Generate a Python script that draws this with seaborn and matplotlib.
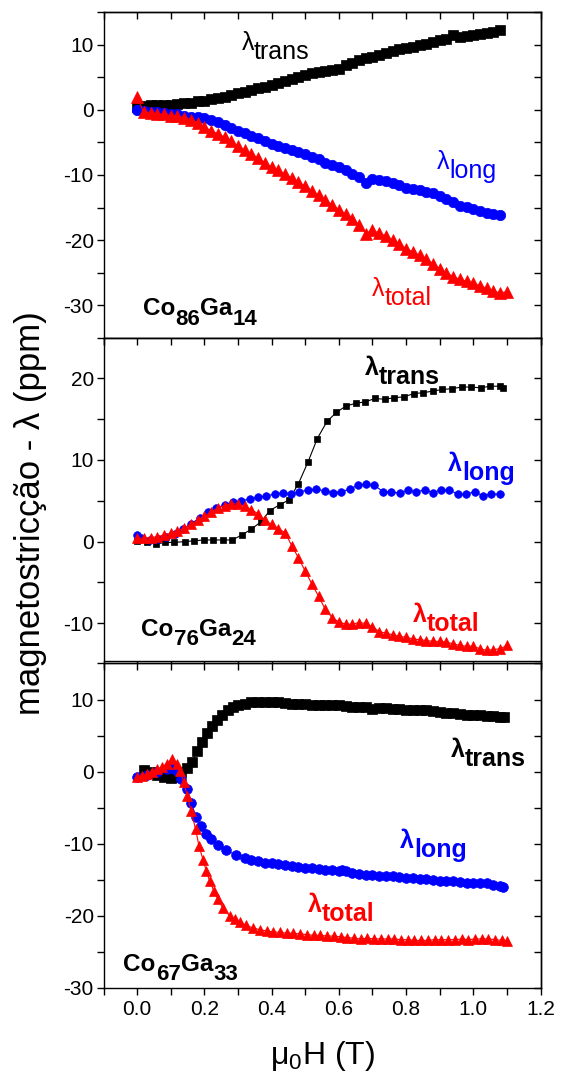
import matplotlib
matplotlib.use('Agg')
import numpy as np
import matplotlib.pyplot as plt
from matplotlib.ticker import MultipleLocator
import seaborn as sns

# ---- Co86Ga14 (top panel) ----
x_p1 = np.round(np.arange(0, 1.081, 0.02), 3)
trans_p1 = [0.4, 0.6, 0.7, 0.7, 0.8, 0.8, 0.9, 1.0, 1.1, 1.3, 1.4, 1.6, 1.8, 2.0, 2.3,
            2.6, 2.8, 3.0, 3.3, 3.5, 3.8, 4.1, 4.4, 4.7, 5.1, 5.4, 5.6, 5.8, 6.0, 6.1,
            6.3, 6.8, 7.2, 7.6, 7.9, 8.1, 8.4, 8.7, 9.0, 9.3, 9.5, 9.7, 9.9, 10.1, 10.4,
            10.7, 10.9, 11.4, 11.2, 11.3, 11.4, 11.6, 11.8, 12.0, 12.2]
long_p1 = [-0.1, -0.2, -0.3, -0.4, -0.5, -0.6, -0.7, -0.9, -1.1, -1.1, -1.2, -1.5, -1.9,
           -2.3, -2.8, -3.2, -3.6, -4.0, -4.4, -4.8, -5.2, -5.5, -5.8, -6.1, -6.4, -6.8,
           -7.2, -7.6, -8.1, -8.5, -8.8, -9.3, -9.8, -10.3, -11.2, -10.6, -10.8, -10.9,
           -11.2, -11.6, -12.0, -12.1, -12.3, -12.6, -12.8, -13.3, -13.7, -14.2, -14.7,
           -14.9, -15.2, -15.5, -15.8, -16.0, -16.1]
xt_p1 = np.round(np.arange(0, 1.101, 0.02), 3)
total_p1 = [1.9, -0.4, -0.5, -0.6, -0.7, -0.9, -1.0, -1.2, -1.5, -2.0, -2.7, -3.2, -3.7,
            -4.2, -4.8, -5.6, -6.2, -6.8, -7.4, -8.1, -8.8, -9.3, -9.9, -10.5, -11.1,
            -11.7, -12.4, -13.1, -13.9, -14.6, -15.3, -16.0, -16.7, -17.6, -19.0, -18.5,
            -18.9, -19.4, -20.0, -20.6, -21.3, -21.8, -22.3, -22.9, -23.6, -24.4, -25.0,
            -25.6, -26.0, -26.3, -26.6, -27.0, -27.4, -27.8, -28.1, -27.9]

# ---- Co76Ga24 (middle panel) ----
xtr_p2 = [0.0, 0.03, 0.057, 0.082, 0.111, 0.141, 0.169, 0.198, 0.226, 0.254, 0.283, 0.311,
          0.339, 0.368, 0.395, 0.424, 0.452, 0.480, 0.508, 0.536, 0.565, 0.593, 0.622,
          0.650, 0.679, 0.708, 0.737, 0.765, 0.794, 0.823, 0.850, 0.879, 0.908, 0.937,
          0.965, 0.994, 1.022, 1.050, 1.079, 1.087]
trans_p2 = [0.1, 0.0, -0.3, -0.1, -0.1, 0.0, 0.1, 0.2, 0.2, 0.2, 0.2, 0.8, 1.5, 2.4, 3.8,
            4.5, 5.1, 7.1, 9.7, 12.6, 14.7, 15.8, 16.6, 16.9, 17.1, 17.5, 17.4, 17.6, 17.7,
            18.1, 18.2, 18.4, 18.6, 18.7, 18.9, 18.9, 18.8, 19.0, 19.0, 18.8]
xlo_p2 = [0.0, 0.012, 0.037, 0.062, 0.087, 0.112, 0.136, 0.161, 0.186, 0.211, 0.236, 0.260,
          0.285, 0.310, 0.335, 0.359, 0.384, 0.409, 0.434, 0.459, 0.483, 0.508, 0.533,
          0.558, 0.582, 0.607, 0.632, 0.657, 0.682, 0.706, 0.731, 0.756, 0.781, 0.806,
          0.830, 0.855, 0.880, 0.905, 0.929, 0.954, 0.979, 1.004, 1.028, 1.053, 1.078]
long_p2 = [0.8, 0.4, 0.2, 0.3, 0.6, 0.9, 1.5, 2.2, 2.9, 3.6, 4.1, 4.5, 4.8, 5.0, 5.2, 5.4,
           5.6, 5.8, 6.0, 5.8, 6.1, 6.3, 6.4, 6.2, 6.0, 6.1, 6.4, 6.9, 7.0, 6.9, 6.1, 6.1,
           5.9, 6.3, 6.1, 6.3, 6.0, 6.3, 6.3, 5.8, 5.8, 6.1, 5.6, 5.8, 5.8]
xto_p2 = np.round(np.arange(0, 1.101, 0.02), 3)
total_p2 = [0.4, 0.4, 0.5, 0.6, 0.8, 1.0, 1.3, 1.7, 2.1, 2.6, 3.1, 3.6, 4.1, 4.4, 4.6, 4.6,
            4.3, 3.9, 3.4, 2.6, 2.1, 1.6, 1.1, -0.5, -2.0, -3.6, -5.2, -6.7, -8.3, -9.3,
            -9.8, -10.1, -10.1, -9.9, -10.0, -10.4, -11.0, -11.2, -11.4, -11.6, -11.7,
            -11.9, -12.0, -12.1, -12.2, -12.2, -12.3, -12.5, -12.7, -12.8, -12.8, -13.1,
            -13.3, -13.2, -13.1, -12.7]

# ---- Co67Ga33 (bottom panel) ----
xtr_p3 = [0.02, 0.04, 0.06, 0.08, 0.10, 0.115, 0.13, 0.147, 0.164, 0.178, 0.194, 0.208,
          0.224, 0.238, 0.253, 0.27, 0.285, 0.30, 0.32, 0.34, 0.36, 0.38, 0.40, 0.42,
          0.44, 0.46, 0.48, 0.50, 0.52, 0.54, 0.56, 0.58, 0.60, 0.62, 0.64, 0.66, 0.68,
          0.70, 0.72, 0.74, 0.76, 0.78, 0.80, 0.82, 0.84, 0.86, 0.88, 0.90, 0.92, 0.94,
          0.96, 0.98, 1.00, 1.02, 1.04, 1.06, 1.08, 1.09]
trans_p3 = [0.2, -0.1, -0.4, -0.7, -0.9, -0.7, 0.0, 0.55, 1.3, 2.9, 4.1, 5.4, 6.3, 7.2,
            7.9, 8.5, 9.0, 9.2, 9.4, 9.6, 9.7, 9.7, 9.6, 9.6, 9.5, 9.4, 9.4, 9.4, 9.3,
            9.3, 9.3, 9.2, 9.2, 9.1, 9.0, 9.0, 8.9, 8.7, 8.8, 8.8, 8.7, 8.7, 8.6, 8.6,
            8.6, 8.5, 8.4, 8.3, 8.2, 8.1, 8.0, 7.9, 7.9, 7.8, 7.7, 7.7, 7.6, 7.6]
xlo_p3 = [0.0, 0.03, 0.06, 0.09, 0.105, 0.12, 0.132, 0.149, 0.161, 0.176, 0.191, 0.204,
          0.22, 0.24, 0.265, 0.295, 0.32, 0.34, 0.36, 0.38, 0.40, 0.42, 0.44, 0.46, 0.48,
          0.50, 0.52, 0.54, 0.56, 0.58, 0.60, 0.61, 0.62, 0.64, 0.66, 0.68, 0.70, 0.72,
          0.74, 0.76, 0.78, 0.80, 0.82, 0.84, 0.86, 0.88, 0.90, 0.92, 0.94, 0.96, 0.98,
          1.00, 1.02, 1.04, 1.06, 1.08, 1.087]
long_p3 = [-0.8, -0.4, 0.0, 0.4, 0.5, 0.1, -1.0, -2.4, -4.4, -6.3, -7.6, -8.6, -9.4, -10.2,
           -10.9, -11.6, -12.0, -12.2, -12.4, -12.6, -12.7, -12.8, -12.9, -13.1, -13.2,
           -13.3, -13.4, -13.5, -13.6, -13.7, -13.8, -13.6, -13.8, -14.0, -14.2, -14.3,
           -14.3, -14.4, -14.5, -14.5, -14.6, -14.7, -14.8, -14.9, -14.9, -15.0, -15.1,
           -15.2, -15.2, -15.3, -15.4, -15.4, -15.5, -15.5, -15.7, -15.9, -16.0]
xto_p3 = [0.0, 0.015, 0.03, 0.045, 0.06, 0.075, 0.09, 0.105, 0.118, 0.127, 0.139, 0.149,
          0.161, 0.174, 0.184, 0.196, 0.206, 0.216, 0.228, 0.24, 0.255, 0.275, 0.29,
          0.305, 0.325, 0.345, 0.365, 0.385, 0.405, 0.425, 0.445, 0.465, 0.485, 0.505,
          0.525, 0.545, 0.565, 0.585, 0.605, 0.625, 0.645, 0.665, 0.685, 0.705, 0.725,
          0.745, 0.765, 0.785, 0.805, 0.825, 0.845, 0.865, 0.885, 0.905, 0.925, 0.945,
          0.965, 0.985, 1.005, 1.025, 1.045, 1.065, 1.085, 1.10]
total_p3 = [-0.8, -0.6, -0.3, 0.0, 0.3, 0.7, 1.1, 1.7, 1.0, 0.1, -1.4, -3.4, -5.5, -8.0,
            -10.3, -12.2, -13.8, -15.2, -16.5, -17.7, -18.9, -20.0, -20.5, -20.9, -21.3,
            -21.7, -21.9, -22.1, -22.2, -22.3, -22.4, -22.4, -22.5, -22.6, -22.7, -22.7,
            -22.8, -22.8, -22.9, -23.0, -23.1, -23.2, -23.1, -23.2, -23.2, -23.2, -23.2,
            -23.3, -23.3, -23.4, -23.4, -23.4, -23.3, -23.3, -23.3, -23.3, -23.2, -23.3,
            -23.2, -23.2, -23.2, -23.3, -23.4, -23.5]

sns.set_theme(style='ticks', rc={'axes.edgecolor': 'black', 'axes.linewidth': 1.0,
                                 'xtick.color': 'black', 'ytick.color': 'black',
                                 'text.color': 'black', 'axes.labelcolor': 'black'})
plt.rcParams['font.family'] = ['Liberation Sans', 'DejaVu Sans']
plt.rcParams['axes.unicode_minus'] = False
plt.rcParams['mathtext.fontset'] = 'custom'
plt.rcParams['mathtext.rm'] = 'Liberation Sans'
plt.rcParams['mathtext.it'] = 'Liberation Sans:italic'
plt.rcParams['mathtext.bf'] = 'Liberation Sans:bold'

BLACK, BLUE, RED = '#000000', '#0000ff', '#ff0000'


def series(ax, x, y, color, marker, size):
    sns.lineplot(x=x, y=y, ax=ax, color=color, marker=marker, markersize=size,
                 markeredgecolor=color, markeredgewidth=0.5, linewidth=0.8,
                 estimator=None, sort=False)


def chain_label(ax, x, y, parts, color, weight):
    # parts: (text, fontsize, vertical shift in points relative to the base line)
    first = ax.text(x, y, parts[0][0], fontsize=parts[0][1], color=color,
                    fontweight=weight, ha='left', va='baseline')
    prev, prev_shift = first, parts[0][2]
    for txt, size, shift in parts[1:]:
        prev = ax.annotate(txt, xy=(1, 0), xycoords=prev, xytext=(0, shift - prev_shift),
                           textcoords='offset points', fontsize=size, color=color,
                           fontweight=weight, ha='left', va='bottom')
        prev_shift = shift


def lam(ax, x, y, sub, color, weight):
    chain_label(ax, x, y, [('λ', 18, 0), (sub, 18, -6.5)], color, weight)


def comp(ax, x, y, a, b):
    chain_label(ax, x, y, [('Co', 17.5, 0), (a, 16, -7), ('Ga', 17.5, 0), (b, 16, -7)],
                BLACK, 'bold')


def style_axis(ax, ylim, show_x):
    ax.set_xlim(-0.1, 1.2)
    ax.set_ylim(*ylim)
    ax.xaxis.set_major_locator(MultipleLocator(0.2))
    ax.xaxis.set_minor_locator(MultipleLocator(0.1))
    ax.yaxis.set_major_locator(MultipleLocator(10))
    ax.yaxis.set_minor_locator(MultipleLocator(5))
    ax.tick_params(which='both', direction='out', length=5, width=1, labelsize=15, pad=2)
    ax.tick_params(axis='x', labelbottom=show_x, pad=4)
    top = ax.secondary_xaxis('top')
    top.xaxis.set_major_locator(MultipleLocator(0.2))
    top.xaxis.set_minor_locator(MultipleLocator(0.1))
    top.tick_params(which='both', direction='in', length=5, width=1, labeltop=False)
    right = ax.secondary_yaxis('right')
    right.yaxis.set_major_locator(MultipleLocator(10))
    right.yaxis.set_minor_locator(MultipleLocator(5))
    right.tick_params(which='both', direction='in', length=5, width=1, labelright=False)
    ax.set_xlabel('')
    ax.set_ylabel('')


fig = plt.figure(figsize=(5.61, 10.77), dpi=100)
left, width = 0.1845, 0.7790
ax1 = fig.add_axes([left, 0.6862, width, 0.30266])
ax2 = fig.add_axes([left, 0.38626, width, 0.29994])
ax3 = fig.add_axes([left, 0.08264, width, 0.30130])

series(ax1, x_p1, trans_p1, BLACK, 's', 7)
series(ax1, x_p1, long_p1, BLUE, 'o', 7.5)
series(ax1, xt_p1, total_p1, RED, '^', 8)
style_axis(ax1, (-35, 15), False)
lam(ax1, 0.31, 9.2, 'trans', BLACK, 'normal')
lam(ax1, 0.891, -9.1, 'long', BLUE, 'normal')
lam(ax1, 0.698, -28.5, 'total', RED, 'normal')
comp(ax1, 0.017, -31.5, '86', '14')

series(ax2, xtr_p2, trans_p2, BLACK, 's', 5)
series(ax2, xlo_p2, long_p2, BLUE, 'o', 5.5)
series(ax2, xto_p2, total_p2, RED, '^', 7.5)
style_axis(ax2, (-14.6, 24.9), False)
lam(ax2, 0.678, 20.4, 'trans', BLACK, 'bold')
lam(ax2, 0.925, 8.6, 'long', BLUE, 'bold')
lam(ax2, 0.82, -9.8, 'total', RED, 'bold')
comp(ax2, 0.013, -11.5, '76', '24')

series(ax3, xtr_p3, trans_p3, BLACK, 's', 6.5)
series(ax3, xlo_p3, long_p3, BLUE, 'o', 7)
series(ax3, xto_p3, total_p3, RED, '^', 7)
style_axis(ax3, (-30, 15), True)
lam(ax3, 0.933, 2.1, 'trans', BLACK, 'bold')
lam(ax3, 0.782, -10.6, 'long', BLUE, 'bold')
lam(ax3, 0.509, -19.5, 'total', RED, 'bold')
comp(ax3, -0.041, -27.6, '67', '33')

ax3.set_xlabel(r'$\mathrm{\mu_0H\ (T)}$', fontsize=23, labelpad=14)
fig.text(0.054, 0.524, 'magnetostricção - λ (ppm)', rotation=90, fontsize=25,
         ha='center', va='center')

fig.savefig('out.png', dpi=100)
